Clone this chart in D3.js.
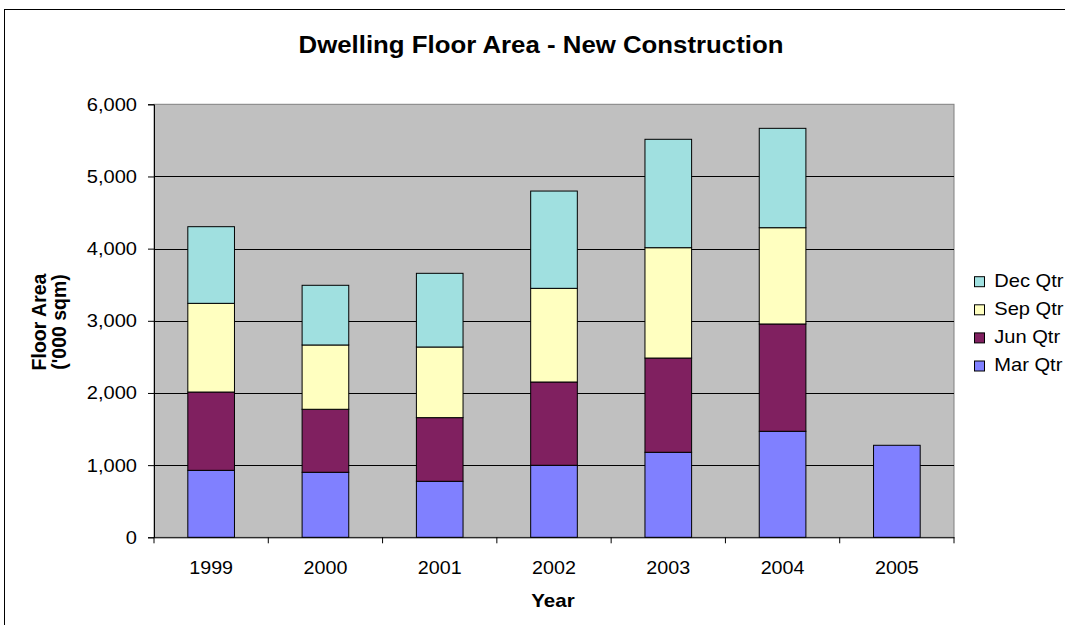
<!DOCTYPE html>
<html>
<head>
<meta charset="utf-8">
<script src="https://cdn.jsdelivr.net/npm/d3@7"></script>
<style>
  html, body { margin: 0; padding: 0; background: #fff; }
  svg { display: block; font-family: Arial, "Liberation Sans", sans-serif; }
</style>
</head>
<body>
<svg id="chart" width="1065" height="625"></svg>
<script>
// Quarterly dwelling floor area, '000 sqm
const years = ["1999", "2000", "2001", "2002", "2003", "2004", "2005"];
const marQtr = [928, 901, 776, 998, 1178, 1469, 1275];
const junQtr = [1085, 873, 882, 1154, 1306, 1487, 0];
const sepQtr = [1229, 891, 979, 1298, 1529, 1334, 0];
const decQtr = [1062, 827, 1021, 1348, 1502, 1377, 0];
const seriesNames = ["Mar Qtr", "Jun Qtr", "Sep Qtr", "Dec Qtr"];
const yTicks = [0, 1000, 2000, 3000, 4000, 5000, 6000];

const colors = {
  "Mar Qtr": "#8080FF",
  "Jun Qtr": "#802060",
  "Sep Qtr": "#FFFFC0",
  "Dec Qtr": "#A0E0E0"
};

const rows = years.map((y, i) => ({
  year: y,
  "Mar Qtr": marQtr[i],
  "Jun Qtr": junQtr[i],
  "Sep Qtr": sepQtr[i],
  "Dec Qtr": decQtr[i]
}));

const FONT = "Arial, 'Liberation Sans', sans-serif";
const WIDEN = 1.08; // horizontal text widening

// widen horizontal text slightly while keeping its height
function widen(sel, k) {
  sel.each(function () {
    const len = this.getComputedTextLength();
    d3.select(this)
      .attr("textLength", len * k)
      .attr("lengthAdjust", "spacingAndGlyphs");
  });
}

const svg = d3.select("#chart");

// outer chart frame
svg.append("rect")
  .attr("x", 4.5).attr("y", 9.5)
  .attr("width", 1080).attr("height", 640)
  .attr("fill", "#fff").attr("stroke", "#000").attr("stroke-width", 1);

const plot = { left: 154, right: 954, top: 104.3, bottom: 537.3 };

const xCat = d3.scaleBand().domain(years).range([plot.left, plot.right]);
const barW = xCat.bandwidth() / 2.45;

const y = d3.scaleLinear().domain([0, 6000]).range([plot.bottom, plot.top]);

// plot background
svg.append("rect")
  .attr("x", plot.left).attr("y", plot.top)
  .attr("width", plot.right - plot.left).attr("height", plot.bottom - plot.top)
  .attr("fill", "#C0C0C0").attr("stroke", "#808080").attr("stroke-width", 1);

// horizontal gridlines
svg.append("g")
  .selectAll("line")
  .data(yTicks.filter(t => t > 0 && t < 6000))
  .join("line")
  .attr("x1", plot.left).attr("x2", plot.right)
  .attr("y1", d => Math.round(y(d)) + 0.5).attr("y2", d => Math.round(y(d)) + 0.5)
  .attr("stroke", "#000").attr("stroke-width", 1);

// stacked bars
const stack = d3.stack().keys(seriesNames);
const layers = stack(rows);

svg.append("g")
  .selectAll("g")
  .data(layers)
  .join("g")
  .attr("fill", d => colors[d.key])
  .selectAll("rect")
  .data(d => d.filter(s => s[1] - s[0] > 0))
  .join("rect")
  .attr("x", d => xCat(d.data.year) + (xCat.bandwidth() - barW) / 2)
  .attr("width", barW)
  .attr("y", d => y(d[1]))
  .attr("height", d => y(d[0]) - y(d[1]))
  .attr("stroke", "#000").attr("stroke-width", 1);

// y axis
const yAxis = d3.axisLeft(y)
  .tickValues(yTicks)
  .tickSize(6)
  .tickPadding(11)
  .tickFormat(d3.format(","));

const gy = svg.append("g")
  .attr("transform", `translate(${plot.left},0)`)
  .call(yAxis);
gy.select(".domain").attr("stroke", "#000");
gy.selectAll(".tick line").attr("stroke", "#000");
gy.selectAll("text").attr("font-size", 18.6).attr("fill", "#000")
  .attr("font-family", FONT);
widen(gy.selectAll("text"), WIDEN);

// x axis: ticks sit on category boundaries
const xAxis = d3.axisBottom(xCat).tickSize(0).tickPadding(23);
const gx = svg.append("g")
  .attr("transform", `translate(0,${plot.bottom})`)
  .call(xAxis);
gx.select(".domain").attr("stroke", "#000");
gx.selectAll("text").attr("font-size", 18.6).attr("fill", "#000")
  .attr("font-family", FONT);
widen(gx.selectAll("text"), 1.06);

const boundaries = years.map(yr => xCat(yr)).concat([plot.right]);
gx.selectAll(".boundary")
  .data(boundaries)
  .join("line")
  .attr("class", "boundary")
  .attr("x1", d => d).attr("x2", d => d)
  .attr("y1", 0).attr("y2", 6)
  .attr("stroke", "#000");

// title
svg.append("text")
  .attr("x", 541).attr("y", 53)
  .attr("text-anchor", "middle")
  .attr("font-size", 23.5).attr("font-weight", "bold")
  .attr("textLength", 485).attr("lengthAdjust", "spacingAndGlyphs")
  .text("Dwelling Floor Area - New Construction");

// axis titles
const xTitle = svg.append("text")
  .attr("x", 553).attr("y", 607)
  .attr("text-anchor", "middle")
  .attr("font-size", 19).attr("font-weight", "bold")
  .text("Year");
widen(xTitle, WIDEN);

const yTitle = svg.append("text")
  .attr("transform", "translate(46,322) rotate(-90)")
  .attr("text-anchor", "middle")
  .attr("font-size", 19.5).attr("font-weight", "bold");
yTitle.append("tspan").attr("x", 0).attr("dy", 0).text("Floor Area");
yTitle.append("tspan").attr("x", 0).attr("dy", 20).text("('000 sqm)");

// legend (top entry is the top of the stack)
const legendItems = seriesNames.slice().reverse();
const legend = svg.append("g").attr("transform", "translate(974,276.2)");
const li = legend.selectAll("g")
  .data(legendItems)
  .join("g")
  .attr("transform", (d, i) => `translate(0,${i * 28.1})`);
li.append("rect")
  .attr("x", 0.5).attr("y", 0.5)
  .attr("width", 10).attr("height", 10)
  .attr("fill", d => colors[d]).attr("stroke", "#000");
li.append("text")
  .attr("x", 20.3).attr("y", 10.5)
  .attr("font-size", 18.6)
  .text(d => d);
widen(li.selectAll("text"), WIDEN);
</script>
</body>
</html>
